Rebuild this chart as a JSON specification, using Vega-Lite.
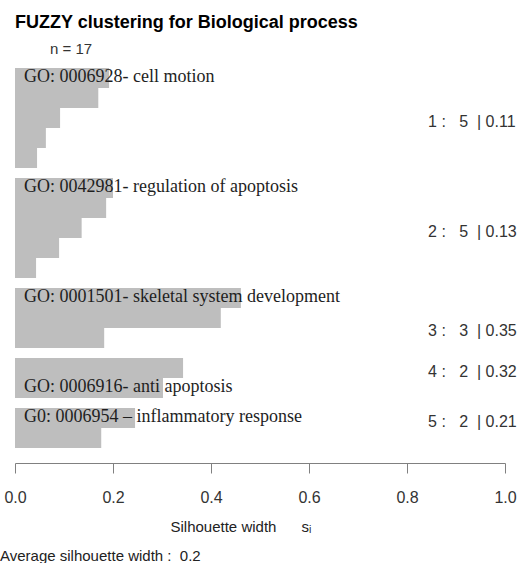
{
  "$schema": "https://vega.github.io/schema/vega-lite/v6.json",
  "background": "white",
  "padding": {"left": 0, "top": 14, "right": 0, "bottom": 0},
  "title": {
    "text": "FUZZY clustering for Biological process",
    "anchor": "start",
    "frame": "group",
    "font": "Liberation Sans",
    "fontSize": 18,
    "fontWeight": "bold",
    "color": "#000000",
    "offset": 10
  },
  "data": {
    "values": [
      {"cluster": 1, "id": "1a", "sil": 0.192, "term": "GO: 0006928- cell motion", "n": "n = 17"},
      {"cluster": 1, "id": "1b", "sil": 0.170},
      {"cluster": 1, "id": "1c", "sil": 0.092, "summary": "1 :\u00a0\u00a0\u00a05\u00a0\u00a0|\u00a00.11"},
      {"cluster": 1, "id": "1d", "sil": 0.063},
      {"cluster": 1, "id": "1e", "sil": 0.045},
      {"cluster": 2, "id": "2a", "sil": 0.200, "term": "GO: 0042981- regulation of apoptosis"},
      {"cluster": 2, "id": "2b", "sil": 0.186},
      {"cluster": 2, "id": "2c", "sil": 0.136, "summary": "2 :\u00a0\u00a0\u00a05\u00a0\u00a0|\u00a00.13"},
      {"cluster": 2, "id": "2d", "sil": 0.090},
      {"cluster": 2, "id": "2e", "sil": 0.043},
      {"cluster": 3, "id": "3a", "sil": 0.461, "term": "GO: 0001501- skeletal system development"},
      {"cluster": 3, "id": "3b", "sil": 0.420, "summary": "3 :\u00a0\u00a0\u00a03\u00a0\u00a0|\u00a00.35"},
      {"cluster": 3, "id": "3c", "sil": 0.182},
      {"cluster": 4, "id": "4a", "sil": 0.343, "summary": "4 :\u00a0\u00a0\u00a02\u00a0\u00a0|\u00a00.32"},
      {"cluster": 4, "id": "4b", "sil": 0.302, "term": "GO: 0006916- anti apoptosis"},
      {"cluster": 5, "id": "5a", "sil": 0.245, "term": "G0: 0006954 \u2013 inflammatory response", "summary": "5 :\u00a0\u00a0\u00a02\u00a0\u00a0|\u00a00.21"},
      {"cluster": 5, "id": "5b", "sil": 0.176, "note": "Average silhouette width :\u00a0 0.2"}
    ]
  },
  "facet": {"row": {"field": "cluster", "type": "ordinal", "header": null}},
  "spacing": {"row": 10},
  "bounds": "flush",
  "resolve": {"scale": {"y": "independent"}},
  "spec": {
    "width": 490,
    "height": {"step": 20},
    "encoding": {
      "y": {
        "field": "id",
        "type": "nominal",
        "sort": null,
        "axis": null,
        "scale": {"paddingInner": 0, "paddingOuter": 0}
      }
    },
    "layer": [
      {
        "mark": {"type": "bar", "color": "#bebebe"},
        "encoding": {
          "x": {
            "field": "sil",
            "type": "quantitative",
            "scale": {"domain": [0, 1], "nice": false, "zero": true},
            "axis": {
              "values": [0, 0.2, 0.4, 0.6, 0.8, 1.0],
              "format": ".1f",
              "grid": false,
              "offset": 15,
              "tickSize": 10,
              "domainColor": "#808080",
              "tickColor": "#808080",
              "labelFont": "Liberation Sans",
              "labelFontSize": 16,
              "labelColor": "#333333",
              "labelFlush": false,
              "labelOverlap": false,
              "labelBaseline": "alphabetic",
              "labelPadding": 29,
              "title": "Silhouette width\u00a0\u00a0\u00a0\u00a0\u00a0\u00a0s\u1d62",
              "titleFont": "Liberation Sans",
              "titleFontSize": 15,
              "titleFontWeight": "normal",
              "titleColor": "#222222",
              "titleAlign": "left",
              "titleAnchor": "start",
              "titleBaseline": "alphabetic",
              "titleX": 155,
              "titleY": 68
            }
          }
        }
      },
      {
        "transform": [{"filter": "isValid(datum.term)"}],
        "mark": {"type": "text", "font": "Liberation Serif", "fontSize": 18, "align": "left", "baseline": "middle", "dx": 9, "dy": -1, "color": "#1e1e1e"},
        "encoding": {"x": {"datum": 0}, "text": {"field": "term"}}
      },
      {
        "transform": [{"filter": "isValid(datum.n)"}],
        "mark": {"type": "text", "font": "Liberation Sans", "fontSize": 15, "align": "left", "baseline": "alphabetic", "dy": -24, "color": "#333333"},
        "encoding": {"x": {"datum": 0.0714}, "text": {"field": "n"}}
      },
      {
        "transform": [{"filter": "isValid(datum.summary) && datum.cluster != 3"}],
        "mark": {"type": "text", "font": "Liberation Sans", "fontSize": 16, "align": "left", "baseline": "middle", "dy": 4, "color": "#333333"},
        "encoding": {"x": {"datum": 0.843}, "text": {"field": "summary"}}
      },
      {
        "transform": [{"filter": "isValid(datum.summary) && datum.cluster == 3"}],
        "mark": {"type": "text", "font": "Liberation Sans", "fontSize": 16, "align": "left", "baseline": "middle", "dy": 13, "color": "#333333"},
        "encoding": {"x": {"datum": 0.843}, "text": {"field": "summary"}}
      },
      {
        "transform": [{"filter": "isValid(datum.note)"}],
        "mark": {"type": "text", "font": "Liberation Sans", "fontSize": 15, "align": "left", "baseline": "alphabetic", "dy": 123, "color": "#222222"},
        "encoding": {"x": {"datum": -0.0306}, "text": {"field": "note"}}
      }
    ]
  },
  "config": {"view": {"stroke": null}}
}
